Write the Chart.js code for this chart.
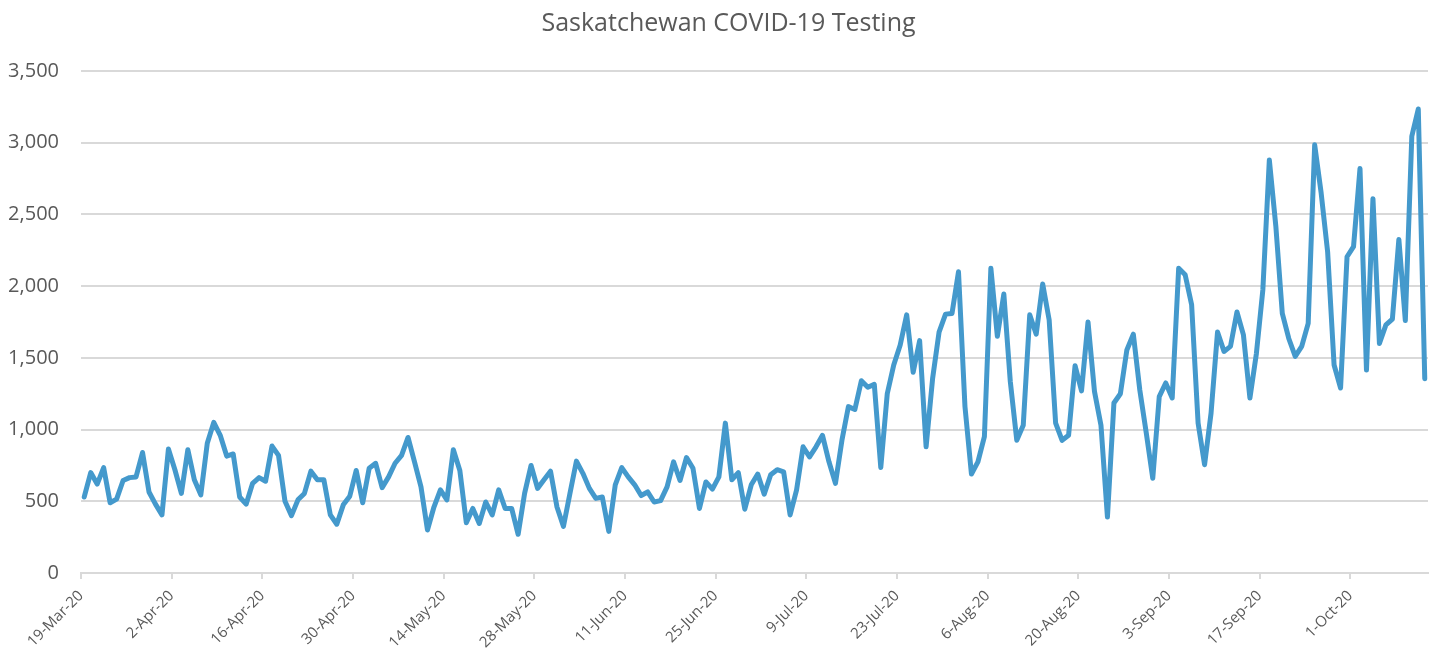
<!DOCTYPE html>
<html>
<head>
<meta charset="utf-8">
<title>Saskatchewan COVID-19 Testing</title>
<script src="https://cdn.jsdelivr.net/npm/chart.js@4/dist/chart.umd.min.js"></script>
<style>
    html, body { margin: 0; padding: 0; background: #ffffff; }
    #wrap { width: 1442px; height: 658px; position: relative; }
</style>
</head>
<body>
<div id="wrap"><canvas id="chart_tests"></canvas></div>
<script>
/* Saskatchewan daily tests, 19-Mar-20 .. 12-Oct-20 */
var startDay = [2020, 2, 19];
var monthNames = ['Jan', 'Feb', 'Mar', 'Apr', 'May', 'Jun', 'Jul', 'Aug', 'Sep', 'Oct', 'Nov', 'Dec'];
var tickEvery = 14;

var tests_values = [
    530, 700, 620, 735, 490, 515, 645, 665, 670, 840, 565, 480, 405, 865,
    720, 555, 860, 650, 545, 905, 1050, 960, 815, 830, 530, 480, 625, 665,
    640, 885, 820, 500, 400, 510, 555, 710, 650, 650, 405, 340, 475, 535,
    715, 490, 730, 765, 595, 670, 765, 820, 945, 775, 600, 300, 460, 580,
    510, 860, 715, 350, 450, 345, 495, 405, 580, 450, 450, 270, 555, 750,
    590, 650, 710, 460, 325, 555, 780, 695, 590, 520, 530, 290, 615, 735,
    670, 615, 540, 565, 495, 505, 600, 775, 645, 805, 730, 450, 635, 585,
    670, 1045, 650, 700, 445, 615, 690, 550, 685, 720, 705, 405, 580, 880,
    810, 880, 960, 775, 625, 925, 1160, 1140, 1340, 1295, 1315, 735, 1250, 1450,
    1590, 1800, 1400, 1620, 880, 1355, 1680, 1805, 1810, 2100, 1160, 690, 775, 950,
    2125, 1650, 1945, 1335, 925, 1030, 1800, 1665, 2015, 1765, 1045, 925, 960, 1445,
    1270, 1750, 1265, 1030, 390, 1185, 1250, 1555, 1665, 1275, 975, 660, 1230, 1325,
    1220, 2125, 2080, 1870, 1045, 755, 1115, 1680, 1545, 1580, 1820, 1660, 1220, 1530,
    1975, 2880, 2420, 1810, 1635, 1510, 1580, 1740, 2985, 2650, 2240, 1450, 1290, 2205,
    2275, 2820, 1415, 2610, 1600, 1730, 1770, 2325, 1760, 3045, 3235, 1355
];

var y_ticks = [0, 500, 1000, 1500, 2000, 2500, 3000, 3500];

document.addEventListener('DOMContentLoaded', function () {
    "use strict";

    var fontFam = "'Open Sans', 'Noto Sans', sans-serif";
    var grey = '#595959';

    var date_keys = tests_values.map(function (v, i) {
        var d = new Date(startDay[0], startDay[1], startDay[2] + i);
        return d.getDate() + '-' + monthNames[d.getMonth()] + '-' + String(d.getFullYear()).slice(2);
    });

    // each day sits in the middle of its slot, ticks mark the slot edges
    var points = tests_values.map(function (v, i) {
        return { x: i + 0.5, y: v };
    });

    var x_ticks = date_keys.map(function (k, i) { return i; }).filter(function (i) {
        return i % tickEvery === 0;
    });

    // nudge the title a bit right, like the original
    var titleShift = {
        id: 'titleShift',
        afterLayout: function (chart) {
            if (chart.titleBlock) {
                chart.titleBlock.left += 25;
            }
        }
    };

    var ctx = document.getElementById('chart_tests').getContext('2d');
    var lineChart = new Chart(ctx, {
        type: 'line',
        plugins: [titleShift],
        data: {
            datasets: [{
                label: 'Tests',
                data: points,
                borderColor: '#4499cc',
                borderWidth: 5,
                borderJoinStyle: 'round',
                borderCapStyle: 'round',
                pointRadius: 0,
                tension: 0,
                fill: false
            }]
        },
        options: {
            animation: false,
            responsive: true,
            maintainAspectRatio: false,
            layout: {
                padding: { left: 4, right: 14, top: 0, bottom: 0 }
            },
            plugins: {
                legend: { display: false },
                tooltip: { enabled: false },
                title: {
                    display: true,
                    text: 'Saskatchewan COVID-19 Testing',
                    color: grey,
                    font: { family: fontFam, size: 25, weight: 'normal' },
                    padding: { top: 9, bottom: 32 }
                }
            },
            scales: {
                x: {
                    type: 'linear',
                    min: 0,
                    max: tests_values.length,
                    afterBuildTicks: function (axis) {
                        axis.ticks = x_ticks.map(function (v) { return { value: v }; });
                    },
                    afterFit: function (axis) {
                        axis.paddingLeft = 0;
                        axis.height = 85;
                    },
                    ticks: {
                        autoSkip: false,
                        maxRotation: 45,
                        minRotation: 45,
                        color: grey,
                        padding: 8,
                        font: { family: fontFam, size: 15 },
                        callback: function (value) { return date_keys[value]; }
                    },
                    grid: {
                        drawOnChartArea: false,
                        drawTicks: true,
                        tickLength: 6,
                        color: '#d9d9d9',
                        lineWidth: 2
                    },
                    border: { display: true, color: '#d9d9d9', width: 2 }
                },
                y: {
                    min: 0,
                    max: 3500,
                    afterBuildTicks: function (axis) {
                        axis.ticks = y_ticks.map(function (v) { return { value: v }; });
                    },
                    afterFit: function (axis) {
                        axis.width = 77;
                    },
                    ticks: {
                        color: grey,
                        padding: 22,
                        font: { family: fontFam, size: 20 },
                        callback: function (value) { return value.toLocaleString('en-US'); }
                    },
                    grid: {
                        drawTicks: false,
                        color: '#d9d9d9',
                        lineWidth: 2
                    },
                    border: { display: false }
                }
            }
        }
    });
});
</script>
</body>
</html>
